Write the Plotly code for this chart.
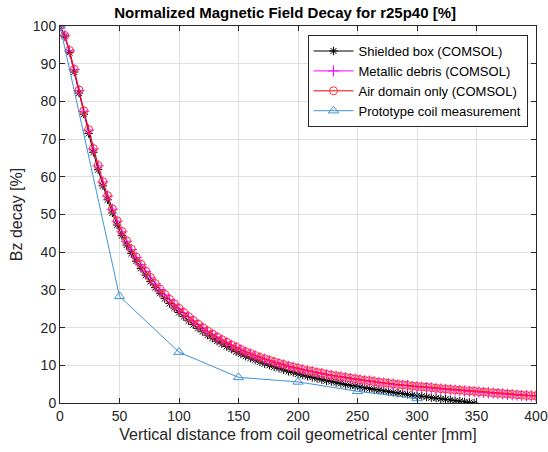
import plotly.graph_objects as go

# distance along axis [mm], 4 mm steps
dist_comsol = list(range(0, 401, 4))
dist_shield = list(range(0, 349, 4))

air_domain = [100, 97.5, 93.5, 88.5, 83.0, 77.5, 72.5, 67.5, 63.0, 58.7,
              55.0, 51.5, 48.3, 45.5, 43.0, 40.8, 38.7, 36.8, 35.0, 33.3,
              31.7, 30.2, 28.8, 27.5, 26.3, 25.1, 24.0, 22.9, 21.9, 20.9,
              20.0, 19.1, 18.3, 17.5, 16.8, 16.1, 15.4, 14.8, 14.2, 13.6,
              13.1, 12.6, 12.1, 11.7, 11.3, 10.9, 10.5, 10.2, 9.8, 9.5,
              9.2, 8.9, 8.6, 8.4, 8.1, 7.9, 7.6, 7.4, 7.2, 7.0,
              6.8, 6.6, 6.4, 6.2, 6.0, 5.9, 5.7, 5.5, 5.4, 5.2,
              5.1, 4.9, 4.8, 4.7, 4.5, 4.4, 4.3, 4.2, 4.1, 3.9,
              3.8, 3.7, 3.6, 3.5, 3.4, 3.3, 3.2, 3.1, 3.0, 2.9,
              2.8, 2.7, 2.6, 2.5, 2.4, 2.3, 2.2, 2.1, 2.0, 1.95, 1.9]

metallic_debris = [100, 97.4, 93.4, 88.4, 82.9, 77.4, 72.4, 67.4, 62.9, 58.6,
                   54.9, 51.4, 48.2, 45.4, 42.9, 40.7, 38.6, 36.7, 34.9, 33.2,
                   31.6, 30.1, 28.7, 27.4, 26.2, 25.0, 23.9, 22.8, 21.8, 20.8,
                   19.9, 19.0, 18.2, 17.4, 16.7, 16.0, 15.3, 14.7, 14.1, 13.5,
                   13.0, 12.5, 12.0, 11.6, 11.2, 10.8, 10.4, 10.1, 9.7, 9.4,
                   9.1, 8.8, 8.5, 8.3, 8.0, 7.8, 7.5, 7.3, 7.1, 6.9,
                   6.7, 6.5, 6.3, 6.1, 5.9, 5.8, 5.6, 5.4, 5.3, 5.1,
                   5.0, 4.8, 4.7, 4.6, 4.4, 4.3, 4.2, 4.1, 4.0, 3.8,
                   3.7, 3.6, 3.5, 3.4, 3.3, 3.2, 3.1, 3.0, 2.9, 2.8,
                   2.7, 2.6, 2.5, 2.4, 2.3, 2.2, 2.1, 2.0, 1.95, 1.9, 1.85]

shielded_box = [100, 97.3, 93.0, 87.8, 82.2, 76.6, 71.5, 66.5, 61.9, 57.6,
                53.9, 50.4, 47.2, 44.4, 41.9, 39.7, 37.6, 35.7, 33.9, 32.2,
                30.6, 29.1, 27.7, 26.4, 25.2, 24.0, 22.9, 21.8, 20.8, 19.8,
                18.9, 18.0, 17.2, 16.4, 15.7, 15.0, 14.3, 13.6, 13.0, 12.4,
                11.9, 11.4, 10.9, 10.4, 10.0, 9.6, 9.2, 8.8, 8.4, 8.1,
                7.7, 7.4, 7.1, 6.8, 6.5, 6.2, 5.9, 5.7, 5.4, 5.2,
                4.9, 4.7, 4.5, 4.2, 4.0, 3.8, 3.6, 3.4, 3.2, 3.0,
                2.8, 2.6, 2.5, 2.3, 2.1, 1.9, 1.8, 1.6, 1.4, 1.3,
                1.1, 1.0, 0.8, 0.6, 0.5, 0.3, 0.15, 0.0]

dist_proto = [0, 50, 100, 150, 200, 250, 300]
proto_meas = [100, 28.3, 13.5, 6.8, 5.6, 3.1, 1.2]

x_ticks = [0, 50, 100, 150, 200, 250, 300, 350, 400]
y_ticks = [0, 10, 20, 30, 40, 50, 60, 70, 80, 90, 100]

FONT = "Liberation Sans, Arial, sans-serif"
AX = "#262626"

fig = go.Figure()
fig.add_trace(go.Scatter(
    x=dist_shield, y=shielded_box, name="Shielded box (COMSOL)",
    mode="lines+markers", line=dict(color="#000000", width=1),
    marker=dict(symbol="asterisk-open", size=7, color="#000000",
                line=dict(width=1, color="#000000"))))
fig.add_trace(go.Scatter(
    x=dist_comsol, y=metallic_debris, name="Metallic debris (COMSOL)",
    mode="lines+markers", line=dict(color="#ff00ff", width=1),
    marker=dict(symbol="cross-thin-open", size=8, color="#ff00ff",
                line=dict(width=1, color="#ff00ff"))))
fig.add_trace(go.Scatter(
    x=dist_comsol, y=air_domain, name="Air domain only (COMSOL)",
    mode="lines+markers", line=dict(color="#ff0000", width=1),
    marker=dict(symbol="circle-open", size=8, color="#ff3030",
                line=dict(width=1, color="#ff3030"))))
fig.add_trace(go.Scatter(
    x=dist_proto, y=proto_meas, name="Prototype coil measurement",
    mode="lines+markers", line=dict(color="#3f93d6", width=1),
    marker=dict(symbol="triangle-up-open", size=9, color="#3f93d6",
                line=dict(width=1, color="#3f93d6"))))

axis_common = dict(
    showgrid=True, gridcolor="#dfdfdf", gridwidth=1,
    showline=True, linecolor=AX, linewidth=1, mirror="ticks",
    ticks="inside", ticklen=5, tickcolor=AX,
    tickfont=dict(family=FONT, size=14, color=AX),
    ticklabeloverflow="allow", automargin=False,
    zeroline=False,
)

fig.update_layout(
    width=548, height=452,
    margin=dict(l=60, r=12, t=26, b=49),
    paper_bgcolor="white", plot_bgcolor="white",
    font=dict(family=FONT, color=AX),
    title=dict(text="<b>Normalized Magnetic Field Decay for r25p40 [%]</b>",
               x=0.473, xref="paper", xanchor="center",
               y=1 - 13 / 452, yref="container", yanchor="middle",
               font=dict(family=FONT, size=15, color="#000000")),
    xaxis=dict(range=[0, 400], tickvals=x_ticks,
               title=dict(text="Vertical distance from coil geometrical center [mm]",
                          font=dict(family=FONT, size=16, color=AX), standoff=6),
               **axis_common),
    yaxis=dict(range=[0, 100], tickvals=y_ticks,
               title=dict(text="Bz decay [%]",
                          font=dict(family=FONT, size=16, color=AX), standoff=6),
               **axis_common),
    legend=dict(x=0.52, y=0.976, xanchor="left", yanchor="top",
                bgcolor="white", bordercolor=AX, borderwidth=1,
                font=dict(family=FONT, size=13, color="#000000"),
                itemwidth=40, tracegroupgap=0),
    showlegend=True,
)

fig.write_html("out.html")
